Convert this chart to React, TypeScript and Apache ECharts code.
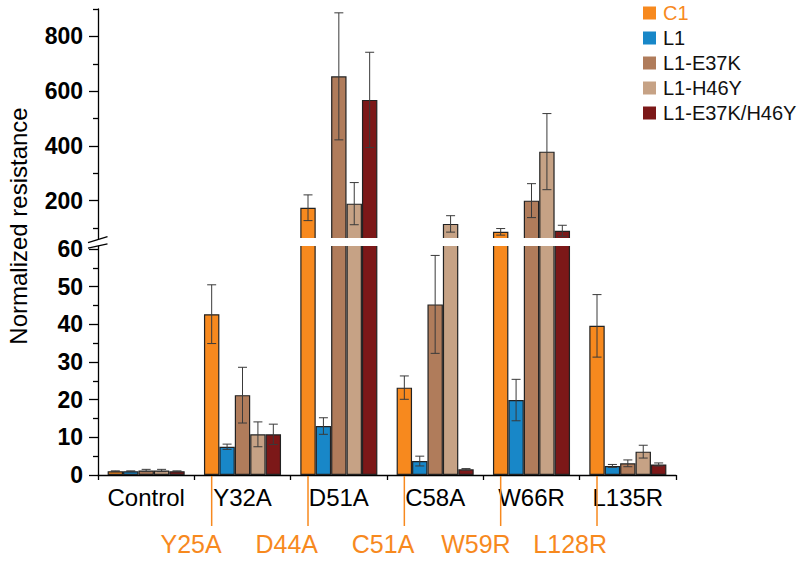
import React, { useEffect, useRef } from 'react';
import * as echarts from 'echarts';

const categories = ['Control', 'Y32A', 'D51A', 'C58A', 'W66R', 'L135R'];
const c1Mutants = ['Y25A', 'D44A', 'C51A', 'W59R', 'L128R'];
const seriesNames = ['C1', 'L1', 'L1-E37K', 'L1-H46Y', 'L1-E37K/H46Y'];

const c1 = [1.0, 42.7, 174, 23.2, 86, 39.6];
const c1Err = [0.1, 7.8, 47, 3.1, 12, 8.3];
const l1 = [1.0, 7.5, 13.0, 3.7, 19.9, 2.4];
const l1Err = [0.1, 0.7, 2.2, 1.3, 5.5, 0.4];
const e37k = [1.2, 21.2, 654, 45.3, 200, 3.1];
const e37kErr = [0.3, 7.4, 232, 13.0, 62, 0.9];
const h46y = [1.2, 10.8, 189, 115, 379, 6.2];
const h46yErr = [0.3, 3.3, 77, 30, 139, 1.7];
const e37kH46y = [1.0, 10.8, 568, 1.5, 90, 2.8];
const e37kH46yErr = [0.1, 2.7, 174, 0.2, 20, 0.4];

const upperTicks = [200, 400, 600, 800];
const upperMinorTicks = [100, 300, 500, 700, 900];
const lowerTicks = [0, 10, 20, 30, 40, 50, 60];
const lowerMinorTicks = [5, 15, 25, 35, 45, 55];

const colors = ['#F7891E', '#1887C8', '#B07C5B', '#C6A285', '#7C1818'];
const ORANGE = '#F7891E';
const FONT = "'Liberation Sans', Arial, Helvetica, sans-serif";

export default function App() {
  const ref = useRef<HTMLDivElement>(null);

  useEffect(() => {
    const chart = echarts.init(ref.current!, null, { renderer: 'svg' });

    const values = [c1, l1, e37k, h46y, e37kH46y];
    const errs = [c1Err, l1Err, e37kErr, h46yErr, e37kH46yErr];
    const LOW_MAX = 62;
    const UP_MIN = 50;
    const UP_MAX = 900;
    const GRID_LEFT = 98;
    const GRID_W = 578;
    const UP_TOP = 9;
    const UP_H = 232.7;
    const LOW_TOP = 241.5;
    const LOW_H = 233.5;
    const BAR_FRAC = 0.8;

    const series: any[] = [];
    seriesNames.forEach((name, si) => {
      const common = {
        type: 'bar',
        name,
        barGap: '0%',
        barCategoryGap: '20%',
        clip: true,
        itemStyle: { color: colors[si], borderColor: '#222', borderWidth: 1.2, borderType: 'solid' },
        emphasis: { disabled: true },
        silent: true,
      };
      series.push({
        ...common,
        xAxisIndex: 0,
        yAxisIndex: 0,
        data: values[si].map((v) => (v > LOW_MAX ? v : null)),
      });
      series.push({
        ...common,
        xAxisIndex: 1,
        yAxisIndex: 1,
        data: values[si],
      });
    });

    const errUpper: number[][] = [];
    const errLower: number[][] = [];
    values.forEach((arr, si) =>
      arr.forEach((v, ci) => {
        const item = [ci, si, v, errs[si][ci]];
        if (v > LOW_MAX) errUpper.push(item);
        else errLower.push(item);
      })
    );

    const errRender = (params: any, api: any) => {
      const ci = api.value(0);
      const si = api.value(1);
      const v = api.value(2);
      const e = api.value(3);
      const catW = api.size([1, 0])[0];
      const bw = (catW * BAR_FRAC) / 5;
      const base = api.coord([ci, v]);
      const x = base[0] + (si - 2) * bw;
      const yt = api.coord([ci, v + e])[1];
      const yb = api.coord([ci, v - e])[1];
      const cap = 4.5;
      const style = { stroke: '#3a3a3a', lineWidth: 1, fill: null };
      return {
        type: 'group',
        children: [
          { type: 'line', shape: { x1: x, y1: yt, x2: x, y2: yb }, style },
          { type: 'line', shape: { x1: x - cap, y1: yt, x2: x + cap, y2: yt }, style },
          { type: 'line', shape: { x1: x - cap, y1: yb, x2: x + cap, y2: yb }, style },
        ],
      };
    };

    series.push({
      type: 'custom',
      xAxisIndex: 0,
      yAxisIndex: 0,
      data: errUpper,
      encode: { x: 0, y: 2 },
      renderItem: errRender,
      z: 5,
      silent: true,
    });
    series.push({
      type: 'custom',
      xAxisIndex: 1,
      yAxisIndex: 1,
      data: errLower,
      encode: { x: 0, y: 2 },
      renderItem: errRender,
      z: 5,
      silent: true,
    });

    series.push({
      type: 'custom',
      xAxisIndex: 1,
      yAxisIndex: 1,
      data: c1Mutants.map((m, i) => [i + 1, 0]),
      encode: { x: 0, y: 1 },
      silent: true,
      z: 6,
      renderItem: (params: any, api: any) => {
        const ci = api.value(0);
        const p = api.coord([ci, 0]);
        const bw = (api.size([1, 0])[0] * BAR_FRAC) / 5;
        const x = p[0] - 2 * bw;
        return {
          type: 'group',
          children: [
            {
              type: 'line',
              shape: { x1: x, y1: p[1] + 1, x2: x, y2: p[1] + 51 },
              style: { stroke: ORANGE, lineWidth: 1.5 },
            },
            {
              type: 'text',
              style: {
                text: c1Mutants[params.dataIndex],
                x: x + 10,
                y: p[1] + 69,
                align: 'right',
                verticalAlign: 'middle',
                fill: ORANGE,
                fontSize: 25,
                fontFamily: FONT,
              },
            },
          ],
        };
      },
    });

    const axisLineStyle = { color: '#000', width: 1.3 };

    chart.setOption({
      animation: false,
      backgroundColor: '#fff',
      grid: [
        { left: GRID_LEFT, top: UP_TOP, width: GRID_W, height: UP_H, outerBoundsMode: 'none' },
        { left: GRID_LEFT, top: LOW_TOP, width: GRID_W, height: LOW_H, outerBoundsMode: 'none' },
      ],
      legend: {
        orient: 'vertical',
        left: 643,
        top: 3,
        padding: 0,
        itemWidth: 13,
        itemHeight: 13,
        itemGap: 5,
        icon: 'rect',
        selectedMode: false,
        itemStyle: { borderWidth: 0 },
        textStyle: { fontSize: 20, fontFamily: FONT, color: '#111', lineHeight: 20, padding: [0, 0, 0, 2] },
        data: seriesNames.map((n, i) =>
          i === 0 ? { name: n, textStyle: { color: ORANGE } } : { name: n }
        ),
      },
      xAxis: [
        { gridIndex: 0, type: 'category', data: categories, show: false },
        {
          gridIndex: 1,
          type: 'category',
          data: categories,
          axisLine: { lineStyle: axisLineStyle },
          axisTick: { show: true, interval: 0, length: 5, lineStyle: axisLineStyle },
          axisLabel: { interval: 0, fontSize: 24, color: '#000', margin: 10, fontFamily: FONT },
        },
      ],
      yAxis: [
        {
          gridIndex: 0,
          type: 'value',
          position: 'left',
          min: UP_MIN,
          max: UP_MAX,
          axisLine: { show: true, lineStyle: axisLineStyle },
          axisTick: { show: true, length: 9, customValues: upperTicks, lineStyle: axisLineStyle },
          axisLabel: {
            customValues: upperTicks,
            fontSize: 23,
            fontWeight: 'bold',
            color: '#000',
            margin: 15,
            fontFamily: FONT,
          },
          splitLine: { show: false },
        },
        {
          gridIndex: 1,
          type: 'value',
          position: 'left',
          min: 0,
          max: LOW_MAX,
          axisLine: { show: true, lineStyle: axisLineStyle },
          axisTick: { show: true, length: 9, customValues: lowerTicks, lineStyle: axisLineStyle },
          axisLabel: {
            customValues: lowerTicks,
            fontSize: 23,
            fontWeight: 'bold',
            color: '#000',
            margin: 15,
            fontFamily: FONT,
          },
          splitLine: { show: false },
        },
        {
          gridIndex: 0,
          type: 'value',
          position: 'left',
          offset: 0,
          min: UP_MIN,
          max: UP_MAX,
          axisLine: { show: false },
          axisTick: { show: true, length: 5, customValues: upperMinorTicks, lineStyle: axisLineStyle },
          axisLabel: { show: false },
          splitLine: { show: false },
        },
        {
          gridIndex: 1,
          type: 'value',
          position: 'left',
          offset: 0,
          min: 0,
          max: LOW_MAX,
          axisLine: { show: false },
          axisTick: { show: true, length: 5, customValues: lowerMinorTicks, lineStyle: axisLineStyle },
          axisLabel: { show: false },
          splitLine: { show: false },
        },
      ],
      graphic: [
        {
          type: 'rect',
          z: 100,
          shape: { x: 99.5, y: 238, width: 580, height: 8 },
          style: { fill: '#fff' },
        },
        {
          type: 'polygon',
          z: 100,
          shape: { points: [[90, 242.1], [107, 236.8], [107, 243.8], [90, 247.6]] },
          style: { fill: '#fff' },
        },
        {
          type: 'line',
          z: 101,
          shape: { x1: 88, y1: 242.7, x2: 107.5, y2: 236.6 },
          style: { stroke: '#000', lineWidth: 1.3 },
        },
        {
          type: 'line',
          z: 101,
          shape: { x1: 88, y1: 248.2, x2: 107.5, y2: 243.8 },
          style: { stroke: '#000', lineWidth: 1.3 },
        },
        {
          type: 'text',
          z: 101,
          x: 18,
          y: 226,
          rotation: Math.PI / 2,
          style: {
            text: 'Normalized resistance',
            fontSize: 24,
            fontFamily: FONT,
            fill: '#000',
            align: 'center',
            verticalAlign: 'middle',
          },
        },
      ],
      series,
    });

    return () => chart.dispose();
  }, []);

  return (
    <div
      ref={ref}
      style={{ position: 'fixed', left: 0, top: 0, width: 800, height: 563, background: '#fff' }}
    />
  );
}
